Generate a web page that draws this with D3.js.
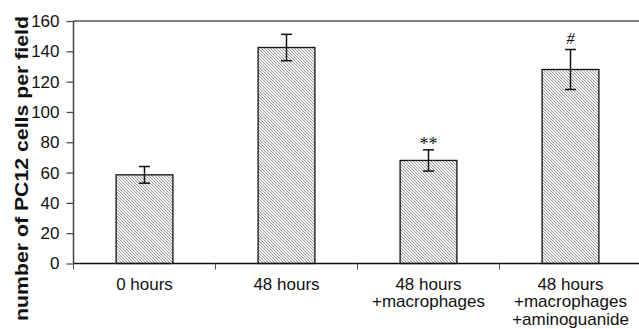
<!DOCTYPE html>
<html><head><meta charset="utf-8">
<script src="https://cdn.jsdelivr.net/npm/d3@7"></script>
<style>body{margin:0;background:#fff;}svg{display:block;}</style>
</head><body>
<svg id="c" width="639" height="329"></svg>
<script>
const categories = ["0 hours", "48 hours", "48 hours\n+macrophages", "48 hours\n+macrophages\n+aminoguanide"];
const means = [58.5, 142.5, 68, 128];
const errors = [5.5, 8.7, 7, 13.2];
const marks = ["", "", "**", "#"];
const yTicks = [0, 20, 40, 60, 80, 100, 120, 140, 160];
const yTitle = "number of PC12 cells per field";

const svg = d3.select("#c");
const x = d3.scaleBand().domain(categories).range([73.5, 641.5]).paddingInner(0.6).paddingOuter(0.3);
const y = d3.scaleLinear().domain([0, 160]).range([263.5, 21]);

const defs = svg.append("defs");
const pat = defs.append("pattern").attr("id", "hatch").attr("patternUnits", "userSpaceOnUse")
  .attr("width", 3).attr("height", 3);
pat.append("rect").attr("width", 3).attr("height", 3).attr("fill", "#f2f2f2");
pat.append("path").attr("d", "M-1,-1 L4,4 M-1,2 L1,4 M2,-1 L4,1").attr("stroke", "#8a8a8a").attr("stroke-width", 0.8);

// frame top line
svg.append("line").attr("x1", 73.5).attr("x2", 641).attr("y1", y(160)).attr("y2", y(160))
  .attr("stroke", "#555").attr("stroke-width", 1.5);

// bars
const g = svg.append("g");
g.selectAll("rect.bar").data(categories).join("rect").attr("class", "bar")
  .attr("x", d => x(d)).attr("width", x.bandwidth())
  .attr("y", (d, i) => y(means[i])).attr("height", (d, i) => y(0) - y(means[i]))
  .attr("fill", "url(#hatch)").attr("stroke", "#111").attr("stroke-width", 1.3);

// error bars
const cap = 5.5;
categories.forEach((c, i) => {
  const cx = x(c) + x.bandwidth() / 2;
  const t = y(means[i] + errors[i]), b = y(means[i] - errors[i]);
  const eg = svg.append("g").attr("stroke", "#111").attr("stroke-width", 1.5);
  eg.append("line").attr("x1", cx).attr("x2", cx).attr("y1", t).attr("y2", b);
  eg.append("line").attr("x1", cx - cap).attr("x2", cx + cap).attr("y1", t).attr("y2", t);
  eg.append("line").attr("x1", cx - cap).attr("x2", cx + cap).attr("y1", b).attr("y2", b);
  if (marks[i]) {
    svg.append("text").attr("x", cx).attr("y", t - (marks[i] === "**" ? 0 : 5))
      .attr("text-anchor", "middle")
      .attr("font-family", "Liberation Serif, serif")
      .attr("font-size", marks[i] === "**" ? 18 : 16)
      .attr("font-style", marks[i] === "#" ? "italic" : "normal")
      .attr("fill", "#111").text(marks[i]);
  }
});

// y axis
const yAxis = svg.append("g").attr("transform", "translate(73.5,0)")
  .call(d3.axisLeft(y).tickValues(yTicks).tickSize(7).tickPadding(7).tickFormat(d3.format("d")));
yAxis.select(".domain").attr("stroke", "#444").attr("stroke-width", 1.5).attr("d", `M0,${y(160)}V${y(0)}`);
yAxis.selectAll(".tick line").attr("stroke", "#444").attr("stroke-width", 1.2);
yAxis.selectAll(".tick text").attr("font-family", "Liberation Sans, Arial, sans-serif")
  .attr("font-size", 17).attr("fill", "#111");

// x axis
svg.append("line").attr("x1", 73.5).attr("x2", 641).attr("y1", y(0)).attr("y2", y(0))
  .attr("stroke", "#111").attr("stroke-width", 1.5);
const step = x.step();
categories.forEach((c, i) => {
  const bx = x(c) - step * x.paddingInner() / 2 - (i === 0 ? step * (x.paddingOuter() - x.paddingInner() / 2) : 0);
  svg.append("line").attr("x1", bx).attr("x2", bx).attr("y1", y(0)).attr("y2", y(0) + 6)
    .attr("stroke", "#555").attr("stroke-width", 1);
  const cx = x(c) + x.bandwidth() / 2;
  const t = svg.append("text").attr("text-anchor", "middle")
    .attr("font-family", "Liberation Sans, Arial, sans-serif").attr("font-size", 17).attr("fill", "#111");
  c.split("\n").forEach((ln, k) => {
    t.append("tspan").attr("x", cx).attr("y", 289.5 + k * 17.8).text(ln);
  });
});

// y title
svg.append("text").attr("transform", "translate(28,168.5) rotate(-90)")
  .attr("text-anchor", "middle").attr("font-family", "Liberation Sans, Arial, sans-serif")
  .attr("font-weight", "bold").attr("font-size", 18).attr("fill", "#111")
  .attr("textLength", 305).attr("lengthAdjust", "spacingAndGlyphs").text(yTitle);
</script>
</body></html>
